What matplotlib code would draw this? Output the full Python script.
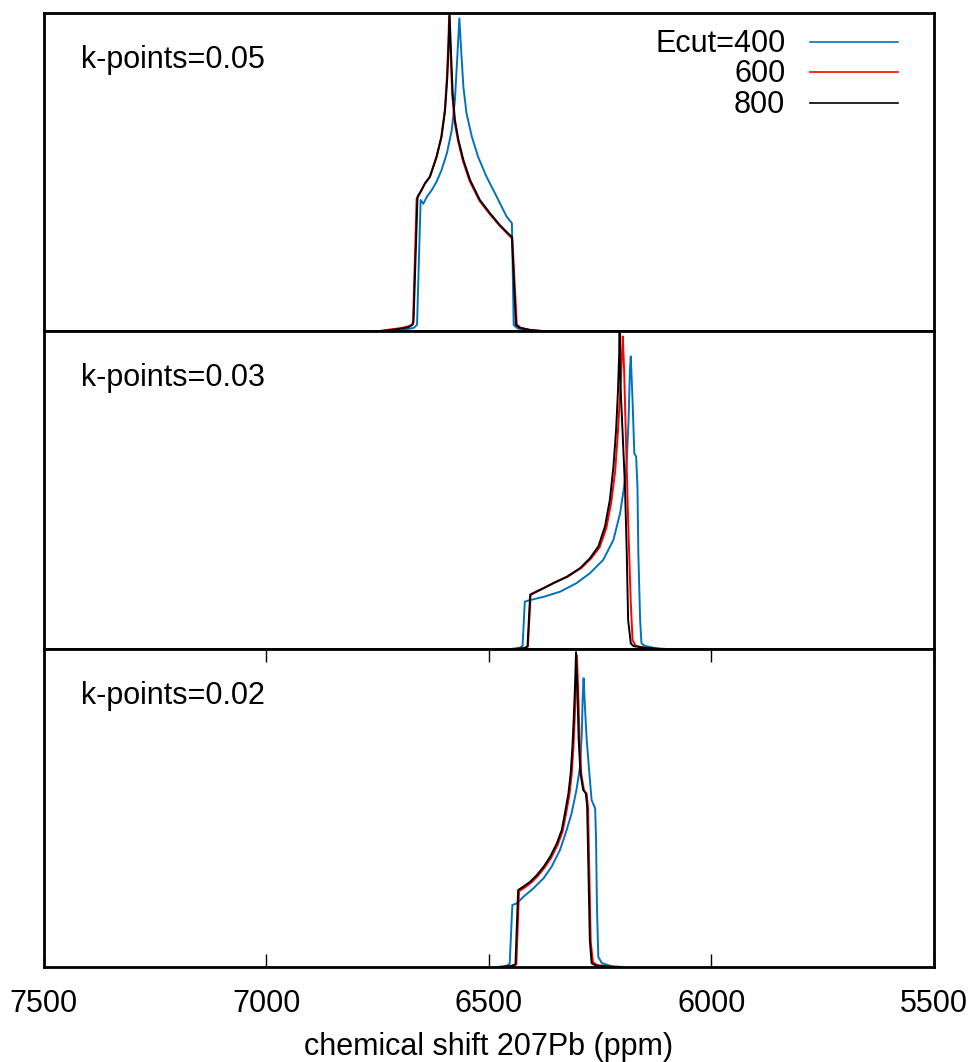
import matplotlib
matplotlib.use("Agg")
import matplotlib.pyplot as plt

plt.rcParams["font.family"] = ["Liberation Sans", "DejaVu Sans"]

ECUTS = ["Ecut=400", "600", "800"]
COLORS = ["#0072bd", "#ff0000", "#000000"]
KPOINTS = ["k-points=0.05", "k-points=0.03", "k-points=0.02"]
XTICKS = [7500, 7000, 6500, 6000, 5500]

# k-points = 0.05
k05_ppm_400 = [6720, 6690, 6668, 6661, 6653, 6647, 6639, 6628, 6617, 6606, 6594, 6583, 6576, 6571, 6566,
               6562, 6557, 6550, 6538, 6524, 6505, 6482, 6460, 6448, 6444, 6435, 6415, 6390]
k05_int_400 = [0.0, 0.004, 0.01, 0.02, 0.412, 0.40, 0.422, 0.443, 0.47, 0.506, 0.559, 0.632, 0.726, 0.852, 0.983,
               0.884, 0.768, 0.685, 0.611, 0.548, 0.485, 0.422, 0.36, 0.339, 0.019, 0.008, 0.002, 0.0]
k05_ppm_600 = [6745, 6720, 6698, 6682, 6672, 6670, 6662, 6652, 6644, 6633, 6618, 6607, 6599, 6594, 6591, 6589,
               6586, 6582, 6577, 6569, 6558, 6543, 6521, 6498, 6476, 6454, 6447, 6437, 6428, 6405, 6380]
k05_int_600 = [0.0, 0.005, 0.009, 0.014, 0.02, 0.03, 0.415, 0.44, 0.462, 0.483, 0.545, 0.608, 0.69, 0.795, 0.90, 0.99,
               0.88, 0.745, 0.66, 0.598, 0.535, 0.472, 0.41, 0.368, 0.332, 0.30, 0.29, 0.02, 0.01, 0.003, 0.0]
k05_ppm_800 = [6740, 6715, 6695, 6680, 6671, 6669, 6660, 6651, 6643, 6632, 6617, 6606, 6598, 6593, 6590, 6588,
               6585, 6581, 6576, 6568, 6557, 6542, 6520, 6497, 6475, 6453, 6448, 6439, 6430, 6407, 6380]
k05_int_800 = [0.0, 0.004, 0.008, 0.012, 0.02, 0.03, 0.422, 0.443, 0.465, 0.485, 0.548, 0.611, 0.695, 0.80, 0.905, 1.0,
               0.884, 0.747, 0.664, 0.60, 0.538, 0.475, 0.412, 0.37, 0.333, 0.302, 0.297, 0.019, 0.01, 0.003, 0.0]

# k-points = 0.03
k03_ppm_400 = [6450, 6430, 6424, 6419, 6407, 6377, 6340, 6303, 6273, 6243, 6220, 6205, 6196, 6190, 6186, 6183,
               6181, 6177, 6173, 6169, 6166, 6164, 6160, 6157, 6150, 6123, 6100]
k03_int_400 = [0.0, 0.004, 0.01, 0.149, 0.154, 0.164, 0.18, 0.207, 0.238, 0.28, 0.343, 0.427, 0.51, 0.594, 0.72, 0.877,
               0.92, 0.78, 0.615, 0.605, 0.51, 0.30, 0.091, 0.018, 0.01, 0.002, 0.0]
k03_ppm_600 = [6440, 6420, 6412, 6406, 6399, 6375, 6352, 6322, 6292, 6270, 6251, 6236, 6225, 6216, 6210, 6205,
               6201, 6199, 6196, 6192, 6187, 6181, 6177, 6170, 6150, 6115]
k03_int_600 = [0.0, 0.003, 0.008, 0.172, 0.177, 0.193, 0.209, 0.228, 0.255, 0.285, 0.32, 0.38, 0.46, 0.56, 0.68, 0.80,
               0.92, 0.983, 0.877, 0.668, 0.406, 0.144, 0.028, 0.01, 0.004, 0.0]
k03_ppm_800 = [6440, 6420, 6413, 6407, 6400, 6377, 6355, 6325, 6295, 6273, 6254, 6239, 6228, 6220, 6214, 6210,
               6207, 6206, 6204, 6199, 6194, 6190, 6187, 6181, 6175, 6150, 6115]
k03_int_800 = [0.0, 0.003, 0.008, 0.17, 0.175, 0.191, 0.207, 0.227, 0.254, 0.285, 0.322, 0.385, 0.469, 0.573, 0.689, 0.804,
               0.93, 0.995, 0.825, 0.668, 0.51, 0.30, 0.091, 0.018, 0.009, 0.004, 0.0]

# k-points = 0.02
k02_ppm_400 = [6480, 6460, 6453, 6447, 6437, 6422, 6400, 6377, 6359, 6340, 6325, 6314, 6303, 6295, 6291, 6289,
               6287, 6284, 6280, 6274, 6269, 6261, 6259, 6257, 6254, 6246, 6225, 6200]
k02_int_400 = [0.0, 0.004, 0.01, 0.195, 0.20, 0.221, 0.247, 0.279, 0.315, 0.368, 0.431, 0.483, 0.557, 0.63, 0.735, 0.85,
               0.908, 0.819, 0.714, 0.609, 0.525, 0.499, 0.40, 0.19, 0.032, 0.012, 0.003, 0.0]
k02_ppm_600 = [6470, 6450, 6438, 6432, 6420, 6405, 6390, 6375, 6360, 6345, 6334, 6327, 6319, 6314, 6310, 6307,
               6304, 6302, 6299, 6296, 6292, 6286, 6280, 6277, 6274, 6271, 6266, 6255, 6215]
k02_int_600 = [0.0, 0.003, 0.008, 0.238, 0.249, 0.265, 0.286, 0.312, 0.343, 0.385, 0.427, 0.478, 0.54, 0.602, 0.685, 0.78,
               0.885, 0.98, 0.865, 0.71, 0.605, 0.555, 0.545, 0.50, 0.29, 0.08, 0.015, 0.005, 0.0]
k02_ppm_800 = [6470, 6450, 6440, 6434, 6422, 6407, 6392, 6377, 6362, 6347, 6336, 6329, 6321, 6316, 6312, 6309,
               6306, 6304, 6301, 6298, 6294, 6288, 6282, 6279, 6276, 6273, 6269, 6260, 6220]
k02_int_800 = [0.0, 0.003, 0.008, 0.242, 0.253, 0.268, 0.289, 0.315, 0.347, 0.389, 0.431, 0.483, 0.546, 0.609, 0.693, 0.787,
               0.892, 0.99, 0.871, 0.714, 0.609, 0.557, 0.546, 0.504, 0.295, 0.085, 0.012, 0.005, 0.0]

PANELS = [
    [(k05_ppm_400, k05_int_400), (k05_ppm_600, k05_int_600), (k05_ppm_800, k05_int_800)],
    [(k03_ppm_400, k03_int_400), (k03_ppm_600, k03_int_600), (k03_ppm_800, k03_int_800)],
    [(k02_ppm_400, k02_int_400), (k02_ppm_600, k02_int_600), (k02_ppm_800, k02_int_800)],
]

W, H = 972, 1062
fig = plt.figure(figsize=(W / 100, H / 100), dpi=100)
left, right = 43.5 / W, 934 / W
top, ph = 13 / H, 318 / H
FS = 22

axes = []
for i, (series, ktxt) in enumerate(zip(PANELS, KPOINTS)):
    ax = fig.add_axes([left, 1 - top - (i + 1) * ph, right - left, ph])
    for (x, y), c in zip(series, COLORS):
        ax.plot(x, y, color=c, linewidth=1.4)
    ax.set_xlim(7500, 5500)
    ax.set_ylim(0, 1.0)
    ax.set_yticks([])
    for s in ax.spines.values():
        s.set_linewidth(2.0)
    ax.text(0.042, 0.826, ktxt, transform=ax.transAxes, fontsize=FS, ha="left", va="baseline")
    if i < 2:
        ax.set_xticks([])
    axes.append(ax)

# legend, gnuplot style (right-aligned titles, sample line to the right)
ax0 = axes[0]
for lab, c, yb, yl in zip(ECUTS, COLORS, [0.878, 0.783, 0.686], [0.909, 0.814, 0.717]):
    ax0.text(0.833, yb, lab, transform=ax0.transAxes, fontsize=FS, ha="right", va="baseline")
    ax0.plot([0.861, 0.960], [yl, yl], transform=ax0.transAxes, color=c, linewidth=1.2)

axb = axes[-1]
axb.set_xticks(XTICKS)
axb.set_xticklabels([str(t) for t in XTICKS])
axb.tick_params(axis="x", direction="in", length=9.5, width=1.0, top=True, bottom=True,
                labelsize=FS, pad=16)
axb.set_xlabel("chemical shift 207Pb (ppm)", fontsize=FS, labelpad=9)

fig.savefig("out.png", dpi=100)
